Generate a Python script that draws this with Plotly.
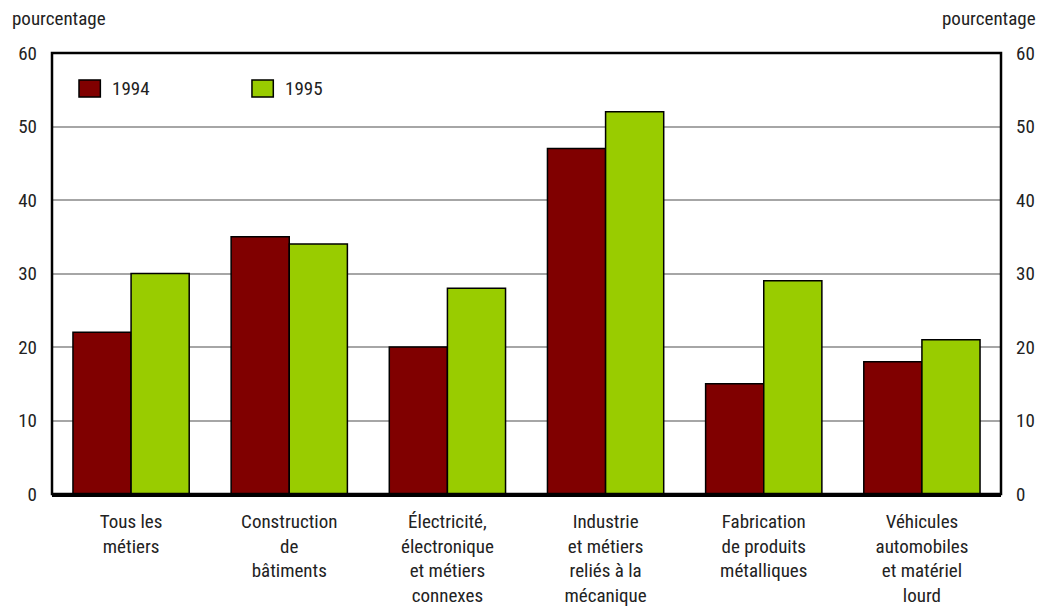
import plotly.graph_objects as go

categories = [
    "Tous les<br>métiers",
    "Construction<br>de<br>bâtiments",
    "Électricité,<br>électronique<br>et métiers<br>connexes",
    "Industrie<br>et métiers<br>reliés à la<br>mécanique",
    "Fabrication<br>de produits<br>métalliques",
    "Véhicules<br>automobiles<br>et matériel<br>lourd",
]
values_1994 = [22, 35, 20, 47, 15, 18]
values_1995 = [30, 34, 28, 52, 29, 21]
series_names = ["1994", "1995"]
series_colors = ["#800000", "#99cc00"]
y_ticks = [0, 10, 20, 30, 40, 50, 60]

FONT = "Liberation Sans Narrow, Roboto Condensed, Arial Narrow, Roboto, sans-serif"
TXT = "#222222"

fig = go.Figure()
for name, vals, col in zip(series_names, [values_1994, values_1995], series_colors):
    fig.add_trace(go.Bar(
        x=categories, y=vals, name=name,
        marker=dict(color=col, line=dict(color="#000000", width=1.5)),
        showlegend=False,
    ))
# invisible trace to activate the right axis
fig.add_trace(go.Scatter(x=categories, y=values_1994, yaxis="y2", mode="markers",
                         marker=dict(opacity=0), hoverinfo="skip", showlegend=False))

fig.update_layout(
    width=1044, height=601,
    margin=dict(l=44, r=51, t=45, b=115, autoexpand=False),
    paper_bgcolor="white", plot_bgcolor="white",
    barmode="group", bargap=0.265, bargroupgap=0,
    font=dict(family=FONT, size=19, color=TXT),
    xaxis=dict(showline=True, linecolor="#000000", linewidth=3, ticks="",
               automargin=False, ticklabelstandoff=8,
               tickfont=dict(family=FONT, size=19, color=TXT), showgrid=False),
    yaxis=dict(range=[0, 60], tickvals=y_ticks, showgrid=True, gridcolor="#a6a6a6",
               gridwidth=2, zeroline=False, showline=False, ticks="",
               automargin=False, ticklabelstandoff=14,
               tickfont=dict(family=FONT, size=19, color=TXT)),
    yaxis2=dict(range=[0, 60], tickvals=y_ticks, overlaying="y", side="right",
                showgrid=False, zeroline=False, showline=False, ticks="",
                automargin=False, ticklabelstandoff=14,
                tickfont=dict(family=FONT, size=19, color=TXT)),
    shapes=[dict(type="rect", xref="paper", yref="paper", x0=0, x1=1, y0=0, y1=1,
                 line=dict(color="#000000", width=2.5), layer="above")],
)

fig.add_annotation(text="pourcentage", xref="paper", yref="paper", x=-0.0443, y=1.079,
                   xanchor="left", yanchor="middle", showarrow=False,
                   font=dict(family=FONT, size=19, color=TXT))
fig.add_annotation(text="pourcentage", xref="paper", yref="paper", x=1.039, y=1.079,
                   xanchor="right", yanchor="middle", showarrow=False,
                   font=dict(family=FONT, size=19, color=TXT))

# custom legend
legend_x = [0.02845, 0.2107]
for name, col, lx in zip(series_names, series_colors, legend_x):
    fig.add_shape(type="rect", xref="paper", yref="paper",
                  x0=lx, x1=lx + 0.0225, y0=0.900, y1=0.939,
                  fillcolor=col, line=dict(color="#000000", width=1.5))
    fig.add_annotation(text=name, xref="paper", yref="paper", x=lx + 0.033, y=0.9206,
                       xanchor="left", yanchor="middle", showarrow=False,
                       font=dict(family=FONT, size=19, color=TXT))

fig.write_html("out.html")
